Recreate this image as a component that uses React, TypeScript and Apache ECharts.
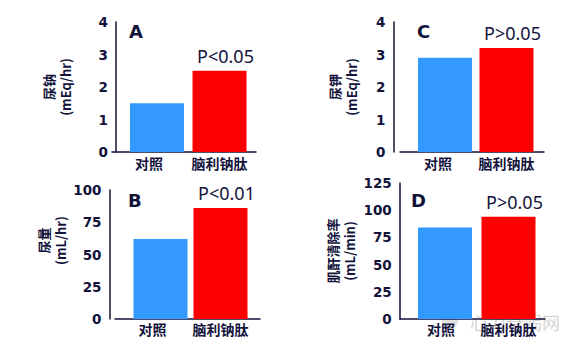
import React, { useEffect, useRef } from "react";
import * as echarts from "echarts";

// ---- data ----
const categories = ["对照", "脑利钠肽"];
const sodiumValues = [1.5, 2.5]; // A 尿钠 (mEq/hr)
const volumeValues = [62, 86]; // B 尿量 (mL/hr)
const potassiumValues = [2.9, 3.2]; // C 尿钾 (mEq/hr)
const clearanceValues = [84, 94]; // D 肌酐清除率 (mL/min)
const pLabels = ["P<0.05", "P<0.01", "P>0.05", "P>0.05"];
const panelLetters = ["A", "B", "C", "D"];
const yNames = ["尿钠\n(mEq/hr)", "尿量\n(mL/hr)", "尿钾\n(mEq/hr)", "肌酐清除率\n(mL/min)"];
const yMaxes = [4, 100, 4, 125];
const yIntervals = [1, 25, 1, 25];
const seriesValues = [sodiumValues, volumeValues, potassiumValues, clearanceValues];

// ---- layout / style ----
const TEXT = "#12123a";
const BLUE = "#3399ff";
const RED = "#ff0000";
const NUM_FONT = "DejaVu Sans";
const CJK_FONT = "Noto Sans CJK SC";

// bar grid (category bands), y-axis offset, frame (x-axis line) extent
const panels = [
  { left: 125.75, width: 125, top: 22, height: 130, offset: 9.75, frameLeft: 112, frameWidth: 144, letterX: 129, letterY: 22, nameGap: 42, namePad: 0, labelMargin: 4, firstShift: 16 },
  { left: 130.5, width: 120, top: 190, height: 129, offset: 21, frameLeft: 115, frameWidth: 145, letterX: 128, letterY: 191, nameGap: 37, namePad: 28, labelMargin: 3, firstShift: 16 },
  { left: 414.25, width: 123, top: 22, height: 130, offset: 20.75, frameLeft: 400, frameWidth: 144, letterX: 417, letterY: 22, nameGap: 34, namePad: 0, labelMargin: 4, firstShift: 14 },
  { left: 413.25, width: 127, top: 183, height: 136, offset: 13.5, frameLeft: 400, frameWidth: 145, letterX: 411, letterY: 191, nameGap: 42, namePad: 0, labelMargin: 3, firstShift: 8 },
];

export default function App() {
  const ref = useRef<HTMLDivElement>(null);

  useEffect(() => {
    if (!ref.current) return;
    const chart = echarts.init(ref.current, null, { renderer: "svg" });

    const grids: any[] = [];
    const xAxes: any[] = [];
    const yAxes: any[] = [];
    const series: any[] = [];
    const titles: any[] = [];

    panels.forEach((p, i) => {
      // bar grid
      grids.push({ left: p.left, width: p.width, top: p.top, height: p.height, containLabel: false });
      const gi = grids.length - 1;
      const catStyle = {
        color: TEXT,
        fontFamily: CJK_FONT,
        fontWeight: "bold" as const,
        fontSize: 14,
      };
      xAxes.push({
        type: "category",
        gridIndex: gi,
        data: categories,
        axisLine: { show: false },
        axisTick: { show: false },
        axisLabel: {
          ...catStyle,
          margin: p.labelMargin,
          interval: 0,
          formatter: (val: string, idx: number) => (idx === 0 ? `{f|${val}}` : `{s|${val}}`),
          rich: {
            f: { ...catStyle, padding: [0, p.firstShift, 0, 0] },
            s: { ...catStyle },
          },
        },
      });
      yAxes.push({
        type: "value",
        gridIndex: gi,
        min: 0,
        max: yMaxes[i],
        interval: yIntervals[i],
        offset: p.offset,
        splitLine: { show: false },
        axisLine: { show: true, lineStyle: { color: TEXT, width: 1.5 } },
        axisTick: { show: false },
        axisLabel: {
          color: TEXT,
          fontFamily: NUM_FONT,
          fontWeight: "bold",
          fontSize: 13.5,
          margin: 8,
        },
        name: yNames[i],
        nameLocation: "middle",
        nameRotate: 90,
        nameGap: p.nameGap,
        nameTextStyle: {
          color: TEXT,
          fontFamily: CJK_FONT,
          fontWeight: "bold",
          fontSize: 13,
          lineHeight: 17,
          align: "center",
          padding: [0, 0, 0, p.namePad],
        },
      });
      series.push({
        type: "bar",
        xAxisIndex: gi,
        yAxisIndex: gi,
        barWidth: 54,
        data: seriesValues[i].map((v, k) => ({
          value: v,
          itemStyle: { color: k === 0 ? BLUE : RED },
          label:
            k === 1
              ? {
                  show: true,
                  position: "top",
                  distance: 6,
                  offset: [6, 0],
                  formatter: pLabels[i],
                  color: TEXT,
                  fontFamily: "Noto Sans",
                  fontSize: 18,
                }
              : { show: false },
        })),
      });

      // frame grid for the x-axis line
      grids.push({ left: p.frameLeft, width: p.frameWidth, top: p.top, height: p.height });
      const fi = grids.length - 1;
      xAxes.push({
        type: "category",
        gridIndex: fi,
        data: [],
        axisLine: { show: true, onZero: false, lineStyle: { color: TEXT, width: 1.5 } },
        axisTick: { show: false },
        axisLabel: { show: false },
      });
      yAxes.push({
        type: "value",
        gridIndex: fi,
        min: 0,
        max: 1,
        show: false,
      });

      titles.push({
        text: panelLetters[i],
        left: p.letterX,
        top: p.letterY,
        padding: 0,
        textStyle: { color: TEXT, fontFamily: NUM_FONT, fontWeight: "bold", fontSize: 18 },
      });
    });

    chart.setOption({
      animation: false,
      backgroundColor: "#ffffff",
      title: titles,
      grid: grids,
      xAxis: xAxes,
      yAxis: yAxes,
      series,
      graphic: [
        {
          type: "circle",
          shape: { cx: 450, cy: 321, r: 8 },
          style: { fill: "rgba(170,170,170,0.35)" },
          silent: true,
        },
        {
          type: "text",
          x: 470,
          y: 313,
          silent: true,
          style: {
            text: "心力衰竭网",
            fill: "rgba(140,140,140,0.4)",
            font: "18px 'Noto Sans CJK SC'",
          },
        },
      ],
    });

    return () => chart.dispose();
  }, []);

  return <div ref={ref} style={{ width: 582, height: 352, position: "absolute", left: 0, top: 0 }} />;
}
